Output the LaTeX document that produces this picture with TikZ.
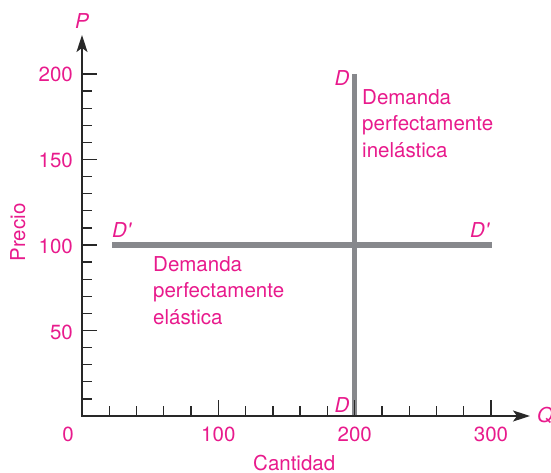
\documentclass[tikz,border=0pt]{standalone}
\usepackage{fontspec}
\setmainfont{TeX Gyre Heros}
\usetikzlibrary{arrows.meta}
\definecolor{mag}{RGB}{232,26,140}
\definecolor{lgray}{RGB}{135,136,140}
\definecolor{axisc}{RGB}{40,40,40}
\begin{document}
\begin{tikzpicture}[x=1pt,y=-1pt,
  axis/.style={draw=axisc,line width=1.4pt},
  tickmark/.style={draw=axisc,line width=1.3pt},
  demline/.style={draw=lgray,line width=5.3pt},
  lbl/.style={text=mag,inner sep=0pt,font=\fontsize{20.5}{26.6}\selectfont},
  ital/.style={text=mag,inner sep=0pt,font=\fontsize{20.5}{26.6}\selectfont\itshape},
  ]
\useasboundingbox (0,0) rectangle (551,473);
% key points
\coordinate (O) at (82,416);
\coordinate (ytip) at (82,35);
\coordinate (xtip) at (530,416);
\coordinate (Dtop) at (354.7,74);
\coordinate (Dbot) at (354.7,416);
\coordinate (Dpl) at (112,245);
\coordinate (Dpr) at (492,245);
% demand curves
\draw[demline] (Dtop) -- (Dbot);
\draw[demline] (Dpl) -- (Dpr);
% ticks
\foreach \v in {10,20,...,200}{
  \pgfmathsetmacro\yy{416-1.71*\v}
  \pgfmathsetmacro\len{mod(\v,50)==0 ? 15 : 9.5}
  \draw[tickmark] (82,\yy) -- ++(\len,0);
}
\foreach \v in {20,40,...,300}{
  \pgfmathsetmacro\xx{82+1.3633*\v}
  \pgfmathsetmacro\len{mod(\v,100)==0 ? 16 : 10.5}
  \draw[tickmark] (\xx,416) -- ++(0,-\len);
}
% axes
\draw[axis,{Stealth[length=17pt,width=11pt,inset=4pt]}-{Stealth[length=17pt,width=11pt,inset=4pt]}] (ytip) -- (O) -- (xtip);
% axis labels
\node[ital,anchor=base] (P) at (82,29) {P};
\node[ital,anchor=west] (Q) at (537,415) {Q};
\node[lbl,anchor=base,rotate=90] (precio) at (25,232.5) {Precio};
\node[lbl,anchor=base west] (cantidad) at (253,470.5) {Cantidad};
% tick labels
\node[lbl,anchor=east] (y200) at (73,74.5) {200};
\node[lbl,anchor=east] (y150) at (73,160) {150};
\node[lbl,anchor=east] (y100) at (73,246) {100};
\node[lbl,anchor=east] (y50) at (73,332) {50};
\node[lbl] (x0) at (68,434) {0};
\node[lbl] (x100) at (218.3,434) {100};
\node[lbl] (x200) at (354.7,434) {200};
\node[lbl] (x300) at (491,434) {300};
% curve labels
\node[ital,anchor=base] (Dlt) at (342,86) {D};
\node[ital,anchor=base] (Dlb) at (342,412) {D};
\node[ital,anchor=base west] (Dpll) at (112,237) {D\textquotesingle};
\node[ital,anchor=base west] (Dprl) at (470,237) {D\textquotesingle};
\node[lbl,anchor=north west,align=left] (inel) at (362,89) {Demanda\\perfectamente\\inelástica};
\node[lbl,anchor=north west,align=left] (elas) at (153,256) {Demanda\\perfectamente\\elástica};
\end{tikzpicture}
\end{document}
